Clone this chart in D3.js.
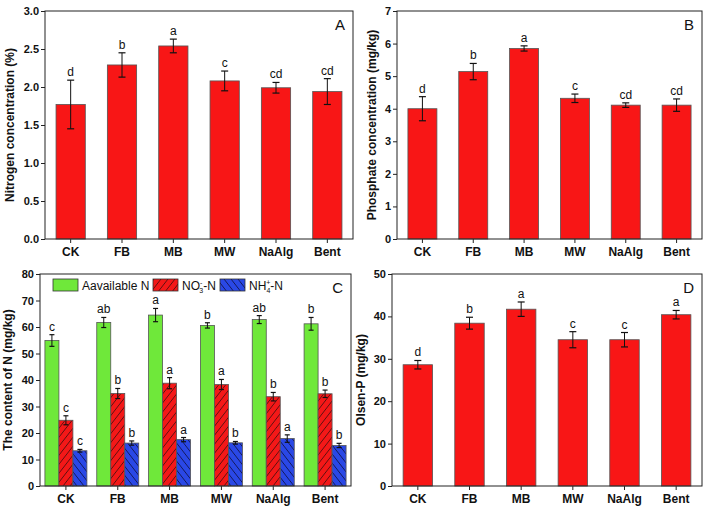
<!DOCTYPE html>
<html><head><meta charset="utf-8">
<script src="https://cdn.jsdelivr.net/npm/d3@7"></script>
<style>body{margin:0;background:#fff}svg{display:block}text{font-family:Arial,"Liberation Sans",sans-serif}</style>
</head><body>
<svg id="c" width="709" height="513"></svg>
<script>
const categories = ["CK","FB","MB","MW","NaAlg","Bent"];
// Panel A
const nitrogenMean = [1.77,2.29,2.54,2.08,1.99,1.94];
const nitrogenErr  = [0.32,0.16,0.09,0.13,0.07,0.17];
const nitrogenSig  = ["d","b","a","c","cd","cd"];
const nitrogenTicks = [0,0.5,1.0,1.5,2.0,2.5,3.0];
// Panel B
const phosphateMean = [4.00,5.14,5.85,4.32,4.11,4.11];
const phosphateErr  = [0.37,0.25,0.08,0.13,0.07,0.19];
const phosphateSig  = ["d","b","a","c","cd","cd"];
const phosphateTicks = [0,1,2,3,4,5,6,7];
// Panel C
const seriesNames = ["Aavailable N","NO3","NH4"];
const availN    = [54.9,61.7,64.5,60.6,62.8,61.2];
const availNErr = [2.2,1.9,2.5,1.0,1.5,2.4];
const availNSig = ["c","ab","a","b","ab","b"];
const no3N      = [24.8,34.9,38.8,38.3,33.7,34.8];
const no3NErr   = [1.7,1.9,2.1,1.9,1.6,1.4];
const no3NSig   = ["c","b","a","a","b","b"];
const nh4N      = [13.3,16.2,17.5,16.3,17.9,15.3];
const nh4NErr   = [0.5,0.8,0.8,0.5,1.4,0.8];
const nh4NSig   = ["c","b","a","b","a","b"];
const contentTicks = [0,10,20,30,40,50,60,70,80];
// Panel D
const olsenMean = [28.6,38.4,41.7,34.5,34.5,40.4];
const olsenErr  = [1.0,1.4,1.7,1.9,1.7,1.0];
const olsenSig  = ["d","b","a","c","c","a"];
const olsenTicks = [0,10,20,30,40,50];

const svg = d3.select("#c");
const defs = svg.append("defs");
function hatch(id, color, dir, lineColor){
  const w = 7, h = 9;
  const p = defs.append("pattern").attr("id",id).attr("patternUnits","userSpaceOnUse")
    .attr("width",w).attr("height",h);
  p.append("rect").attr("width",w).attr("height",h).attr("fill",color);
  const d = dir>0
    ? `M0,${h} L${w},0 M${-w},${h} L0,0 M${w},${h} L${2*w},0`
    : `M0,0 L${w},${h} M${-w},0 L0,${h} M${w},0 L${2*w},${h}`;
  p.append("path").attr("d",d).attr("stroke",lineColor).attr("stroke-width",0.8);
}
hatch("hRed","#f41818",1,"#3a0c0c");
hatch("hBlue","#2a48e6",-1,"#0c0c3a");

const RED = "#f81616", GREEN = "#6fe83a";

function panel(cfg){
  const g = svg.append("g");
  const x = d3.scaleBand().domain(categories).range([cfg.x0,cfg.x1]);
  const y = d3.scaleLinear().domain([0, cfg.ticks[cfg.ticks.length-1]]).range([cfg.y1,cfg.y0]);
  const ya = d3.axisLeft(y).tickValues(cfg.ticks).tickSize(4).tickPadding(2).tickFormat(cfg.fmt);
  const yg = g.append("g").attr("transform",`translate(${cfg.x0},0)`).call(ya);
  yg.select(".domain").remove();
  yg.selectAll("text").attr("font-size",11).attr("font-weight","bold").attr("fill","#111");
  yg.selectAll("line").attr("stroke","#222");
  const xa = d3.axisBottom(x).tickSize(4).tickPadding(4);
  const xg = g.append("g").attr("transform",`translate(0,${cfg.y1})`).call(xa);
  xg.select(".domain").remove();
  xg.selectAll("text").attr("font-size",12).attr("font-weight","bold").attr("fill","#111");
  xg.selectAll("line").attr("stroke","#222");
  const n = cfg.series.length;
  const groupW = x.bandwidth()*cfg.groupFrac;
  const bw = groupW/n;
  cfg.series.forEach((s,si)=>{
    const off = -groupW/2 + si*bw;
    const sg = g.append("g");
    sg.selectAll("rect").data(s.values).join("rect")
      .attr("x",(d,i)=>x(categories[i])+x.bandwidth()/2+off)
      .attr("y",d=>y(d)).attr("width",bw).attr("height",d=>y(0)-y(d))
      .attr("fill",s.fill).attr("stroke","#555").attr("stroke-width",0.8);
    const cap = cfg.cap;
    s.values.forEach((d,i)=>{
      const cx = x(categories[i])+x.bandwidth()/2+off+bw/2;
      const e = s.err[i];
      const hi = y(d+e), lo = y(d-e);
      sg.append("line").attr("x1",cx).attr("x2",cx).attr("y1",hi).attr("y2",lo).attr("stroke","#111").attr("stroke-width",1);
      sg.append("line").attr("x1",cx-cap).attr("x2",cx+cap).attr("y1",hi).attr("y2",hi).attr("stroke","#111").attr("stroke-width",1.2);
      sg.append("line").attr("x1",cx-cap).attr("x2",cx+cap).attr("y1",lo).attr("y2",lo).attr("stroke","#111").attr("stroke-width",1.2);
      sg.append("text").attr("x",cx).attr("y",hi-4).attr("text-anchor","middle")
        .attr("font-size",12).attr("fill","#111").text(s.sig[i]);
    });
  });
  g.append("rect").attr("x",cfg.x0).attr("y",cfg.y0).attr("width",cfg.x1-cfg.x0).attr("height",cfg.y1-cfg.y0)
    .attr("fill","none").attr("stroke","#222").attr("stroke-width",1);
  g.append("text").attr("x",cfg.x1-8).attr("y",cfg.y0+19).attr("text-anchor","end")
    .attr("font-size",15).attr("fill","#111").text(cfg.letter);
  g.append("text").attr("transform",`translate(${cfg.titleX},${(cfg.y0+cfg.y1)/2}) rotate(-90)`)
    .attr("text-anchor","middle").attr("font-size",12).attr("font-weight","bold").attr("fill","#111")
    .text(cfg.title);
  return g;
}

panel({x0:45,x1:353,y0:11,y1:239,ticks:nitrogenTicks,fmt:d3.format(".1f"),groupFrac:0.57,cap:3.5,
  series:[{values:nitrogenMean,err:nitrogenErr,sig:nitrogenSig,fill:RED}],
  letter:"A",title:"Nitrogen concentration (%)",titleX:14});
panel({x0:397,x1:702,y0:11,y1:239,ticks:phosphateTicks,fmt:d3.format("d"),groupFrac:0.57,cap:3.5,
  series:[{values:phosphateMean,err:phosphateErr,sig:phosphateSig,fill:RED}],
  letter:"B",title:"Phosphate concentration (mg/kg)",titleX:376});
const gc = panel({x0:40,x1:351,y0:274,y1:486,ticks:contentTicks,fmt:d3.format("d"),groupFrac:0.81,cap:2.5,
  series:[{values:availN,err:availNErr,sig:availNSig,fill:GREEN},
          {values:no3N,err:no3NErr,sig:no3NSig,fill:"url(#hRed)"},
          {values:nh4N,err:nh4NErr,sig:nh4NSig,fill:"url(#hBlue)"}],
  letter:"C",title:"The content of N (mg/kg)",titleX:12});
panel({x0:392,x1:702,y0:274,y1:486,ticks:olsenTicks,fmt:d3.format("d"),groupFrac:0.57,cap:3.5,
  series:[{values:olsenMean,err:olsenErr,sig:olsenSig,fill:RED}],
  letter:"D",title:"Olsen-P (mg/kg)",titleX:365});

const legendFills = [GREEN,"url(#hRed)","url(#hBlue)"];
const legendX = [53,153,220];
const lg = gc.append("g");
seriesNames.forEach((nm,i)=>{
  lg.append("rect").attr("x",legendX[i]).attr("y",279).attr("width",25).attr("height",12)
    .attr("fill",legendFills[i]).attr("stroke","#333").attr("stroke-width",0.8);
  const t = lg.append("text").attr("x",legendX[i]+29).attr("y",290).attr("font-size",12).attr("fill","#111");
  if(i===0){ t.text(nm); }
  else if(i===1){
    t.append("tspan").text("NO");
    t.append("tspan").attr("font-size",7).attr("dy",-5).text("-");
    t.append("tspan").attr("font-size",7).attr("dx",-3).attr("dy",8).text("3");
    t.append("tspan").attr("dy",-3).text("-N");
  } else {
    t.append("tspan").text("NH");
    t.append("tspan").attr("font-size",7).attr("dy",-5).text("+");
    t.append("tspan").attr("font-size",7).attr("dx",-4).attr("dy",8).text("4");
    t.append("tspan").attr("dy",-3).text("-N");
  }
});
</script>
</body></html>
